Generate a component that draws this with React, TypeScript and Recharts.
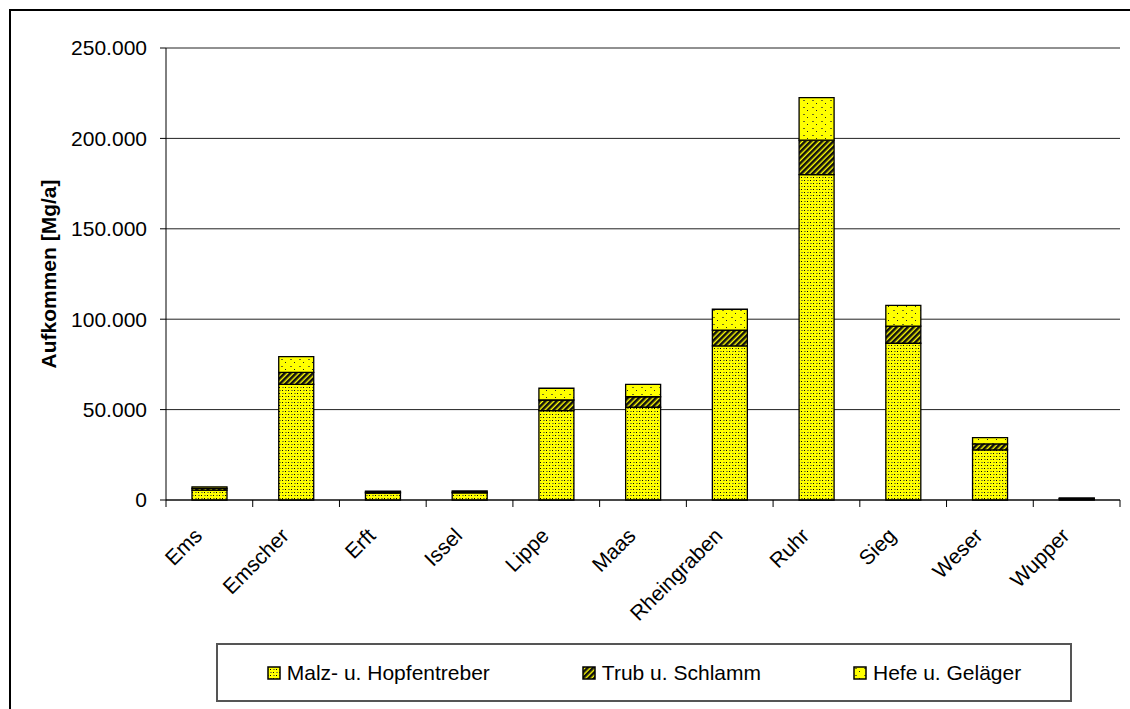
import { BarChart, Bar, XAxis, YAxis, CartesianGrid } from 'recharts';

// Brauerei-Reststoffe je Flussgebiet, Mg/a
const rivers = ['Ems', 'Emscher', 'Erft', 'Issel', 'Lippe', 'Maas', 'Rheingraben', 'Ruhr', 'Sieg', 'Weser', 'Wupper'];
const malzHopfen = [5500, 64000, 3800, 3900, 49400, 51300, 85200, 180000, 86700, 27700, 600];
const trubSchlamm = [900, 6600, 500, 500, 5900, 5800, 8800, 19000, 9500, 3300, 200];
const hefeGelaeger = [900, 8700, 600, 600, 6500, 6900, 11500, 23500, 11500, 3500, 300];
const yTicks = [0, 50000, 100000, 150000, 200000, 250000];
const seriesNames = ['Malz- u. Hopfentreber', 'Trub u. Schlamm', 'Hefe u. Geläger'];
const seriesKeys = ['malz', 'trub', 'hefe'];
const patternIds = ['pat-malz', 'pat-trub', 'pat-hefe'];

const data = rivers.map((name, i) => ({
  name,
  malz: malzHopfen[i],
  trub: trubSchlamm[i],
  hefe: hefeGelaeger[i],
}));

const WIDTH = 1130;
const HEIGHT = 709;
const PLOT_LEFT = 166;
const PLOT_RIGHT = 1120;
const BAND = (PLOT_RIGHT - PLOT_LEFT) / rivers.length;
const FONT = 21;

const formatThousands = (v: number) => String(v).replace(/\B(?=(\d{3})+(?!\d))/g, '.');

// category labels turned by 45°, tick marks sit on the category borders
function RiverTick({ x, y, payload, index }: any) {
  const tx = x - 6;
  const ty = y + 37;
  return (
    <g>
      <line x1={x - BAND / 2} x2={x - BAND / 2} y1={y} y2={y + 7} stroke="#000" />
      {index === rivers.length - 1 && (
        <line x1={x + BAND / 2} x2={x + BAND / 2} y1={y} y2={y + 7} stroke="#000" />
      )}
      <text x={tx} y={ty} textAnchor="end" transform={`rotate(-45 ${tx} ${ty})`} fontSize={FONT} fill="#000">
        {payload.value}
      </text>
    </g>
  );
}

function YTitle({ viewBox }: any) {
  const cy = viewBox ? viewBox.y + viewBox.height / 2 : 274;
  const cx = 56;
  return (
    <text x={cx} y={cy} transform={`rotate(-90 ${cx} ${cy})`} textAnchor="middle" fontSize={FONT} fontWeight="bold" fill="#000">
      Aufkommen [Mg/a]
    </text>
  );
}

function LegendBox() {
  return (
    <div
      style={{
        position: 'absolute',
        left: 216,
        top: 643,
        width: 856,
        height: 59,
        boxSizing: 'border-box',
        border: '2px solid #555',
        display: 'flex',
        alignItems: 'center',
        justifyContent: 'center',
        gap: 92,
        fontSize: FONT,
        color: '#000',
      }}
    >
      {seriesNames.map((label, i) => (
        <div key={label} style={{ display: 'flex', alignItems: 'center' }}>
          <svg width={14} height={14} style={{ marginRight: 6 }}>
            <rect x={1} y={1} width={12} height={12} fill={`url(#${patternIds[i]})`} stroke="#000" strokeWidth={1.5} />
          </svg>
          <span>{label}</span>
        </div>
      ))}
    </div>
  );
}

export default function App() {
  return (
    <div
      style={{
        position: 'fixed',
        left: 0,
        top: 0,
        width: WIDTH,
        height: HEIGHT,
        overflow: 'hidden',
        background: '#fff',
        fontFamily: '"Liberation Sans", Arial, sans-serif',
      }}
    >
      <div
        style={{
          position: 'absolute',
          left: 9,
          top: 9,
          width: WIDTH + 50,
          height: HEIGHT + 50,
          borderLeft: '2px solid #000',
          borderTop: '2px solid #000',
        }}
      />
      <div style={{ position: 'absolute', left: 0, top: 0 }}>
        <BarChart
          width={WIDTH}
          height={HEIGHT}
          data={data}
          margin={{ top: 48, right: WIDTH - PLOT_RIGHT, left: 0, bottom: 139 }}
          barSize={35}
        >
          <defs>
            <pattern id="pat-malz" patternUnits="userSpaceOnUse" width={6} height={6}>
              <rect width={6} height={6} fill="#ffff00" />
              <rect x={0} y={0} width={1} height={1} fill="#000" />
              <rect x={3} y={3} width={1} height={1} fill="#000" />
              <rect x={3} y={0} width={2} height={1} fill="#8c8c30" />
              <rect x={0} y={3} width={2} height={1} fill="#8c8c30" />
            </pattern>
            <pattern id="pat-trub" patternUnits="userSpaceOnUse" width={4} height={4} patternTransform="rotate(-45)">
              <rect width={4} height={4} fill="#ffff00" />
              <rect x={0} y={0} width={4} height={2.6} fill="#111" />
            </pattern>
            <pattern id="pat-hefe" patternUnits="userSpaceOnUse" width={9} height={7}>
              <rect width={9} height={7} fill="#ffff00" />
              <rect x={2} y={2} width={2} height={1} fill="#6e6e20" />
              <rect x={6} y={5} width={1} height={1} fill="#222" />
            </pattern>
          </defs>
          <CartesianGrid vertical={false} stroke="#222" />
          <XAxis
            dataKey="name"
            height={70}
            tickLine={false}
            tickSize={0}
            tickMargin={0}
            interval={0}
            axisLine={{ stroke: '#000' }}
            tick={<RiverTick />}
          />
          <YAxis
            width={PLOT_LEFT}
            domain={[0, 250000]}
            ticks={yTicks}
            tickFormatter={formatThousands}
            tickSize={6}
            tickMargin={13}
            tickLine={{ stroke: '#000' }}
            axisLine={{ stroke: '#000' }}
            tick={{ fill: '#000', fontSize: FONT }}
            label={<YTitle />}
          />
          <YAxis
            yAxisId="frame"
            orientation="right"
            width={0}
            domain={[0, 250000]}
            tick={false}
            tickLine={false}
            axisLine={{ stroke: '#999' }}
          />
          {seriesKeys.map((key, i) => (
            <Bar
              key={key}
              dataKey={key}
              name={seriesNames[i]}
              stackId="stack"
              fill={`url(#${patternIds[i]})`}
              stroke="#000"
              strokeWidth={1.3}
              isAnimationActive={false}
            />
          ))}
        </BarChart>
      </div>
      <LegendBox />
    </div>
  );
}
